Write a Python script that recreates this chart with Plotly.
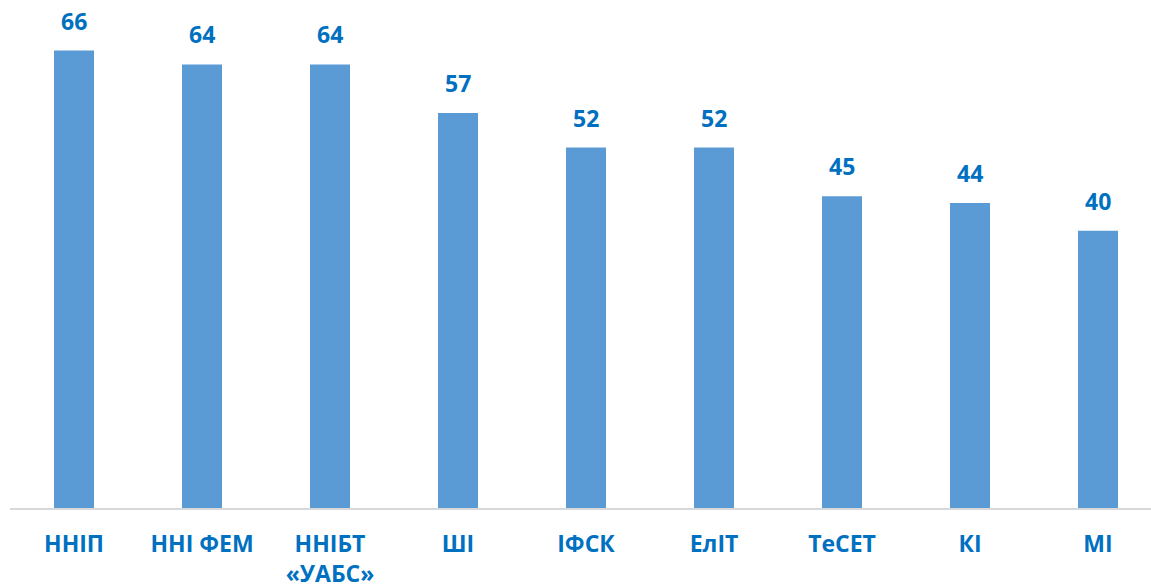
import plotly.graph_objects as go

categories = ["ННІП", "ННІ ФЕМ", "ННІБТ<br>«УАБС»", "ШІ", "ІФСК", "ЕлІТ", "ТеСЕТ", "КІ", "МІ"]
values = [66, 64, 64, 57, 52, 52, 45, 44, 40]

BAR_COLOR = "#5B9BD5"
TEXT_COLOR = "#0070C0"
FONT = "Open Sans"

idx = list(range(len(categories)))

fig = go.Figure(go.Bar(x=idx, y=values, marker=dict(color=BAR_COLOR, line=dict(width=0)), width=0.3125))

for i, v in zip(idx, values):
    fig.add_annotation(x=i, y=v, text=f"<b>{v}</b>", showarrow=False, yanchor="bottom",
                       yshift=12, font=dict(family=FONT, size=23, color=TEXT_COLOR))

fig.update_layout(
    width=1151, height=588,
    margin=dict(l=10, r=0, t=0, b=80),
    paper_bgcolor="white", plot_bgcolor="white",
    showlegend=False,
    xaxis=dict(tickmode="array", tickvals=idx, ticktext=[f"<b>{c}</b>" for c in categories],
               range=[-0.5, 8.414], showgrid=False, zeroline=False, automargin=False,
               showline=True, linecolor="#D9D9D9", linewidth=1.5, ticks="",
               tickfont=dict(family=FONT, size=23, color=TEXT_COLOR), ticklabelstandoff=15),
    yaxis=dict(range=[0, 73.3], visible=False, showgrid=False, zeroline=False, automargin=False),
)

fig.write_html("out.html", config={"displayModeBar": False},
               post_script="document.body.style.margin='0';document.body.style.overflow='hidden';")
